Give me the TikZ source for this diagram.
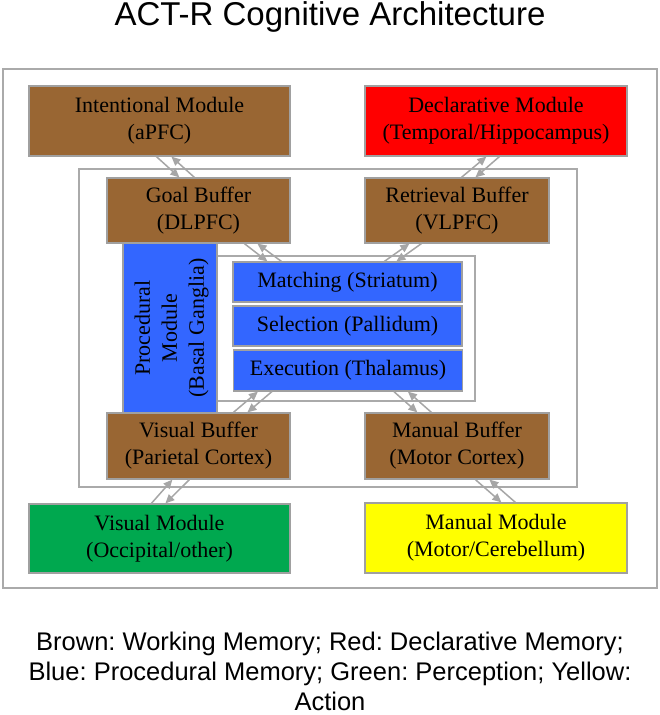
\documentclass[tikz,border=0pt]{standalone}
\usepackage{fontspec}
\setmainfont{Liberation Serif}
\newfontfamily\sansf{Liberation Sans}
\usetikzlibrary{arrows.meta}
\frenchspacing
\definecolor{brownc}{HTML}{996633}
\definecolor{redc}{HTML}{FF0000}
\definecolor{bluec}{HTML}{3366FF}
\definecolor{greenc}{HTML}{00A84F}
\definecolor{yellowc}{HTML}{FFFF00}
\definecolor{edgec}{HTML}{A0A0A0}
\definecolor{framec}{HTML}{AAAAAA}
\definecolor{arrc}{HTML}{A6A6A6}
\tikzset{
  box/.style={draw=edgec, line width=1.2pt, inner sep=0pt, align=center,
    font=\fontsize{22}{27}\selectfont, text=black},
  frame/.style={draw=framec, line width=1.5pt, fill=white},
  arr/.style={draw=arrc, line width=1.5pt, -{Triangle[length=9pt,width=8pt]}},
}
\begin{document}
\begin{tikzpicture}[x=1pt,y=-1pt]
\useasboundingbox (0,0) rectangle (660,715);
\node[font=\sansf\fontsize{33}{40}\selectfont] (title) at (330,17) {ACT-R Cognitive Architecture};
% frames
\draw[frame] (3,69) rectangle (657,588);
\draw[frame] (79,169) rectangle (577,487);
\draw[frame] (217,256) rectangle (475,401);
% modules
\node[box, fill=brownc, minimum width=261pt, minimum height=70pt] (intent) at (159.5,121) {Intentional Module\\(aPFC)};
\node[box, fill=redc, minimum width=262pt, minimum height=70pt] (decl) at (496,121) {Declarative Module\\(Temporal/Hippocampus)};
\node[box, fill=brownc, minimum width=183pt, minimum height=65pt] (goal) at (198.5,210.5) {Goal Buffer\\(DLPFC)};
\node[box, fill=brownc, minimum width=184pt, minimum height=65pt] (retr) at (457,210.5) {Retrieval Buffer\\(VLPFC)};
\node[box, fill=bluec, minimum width=94pt, minimum height=170pt] (proc) at (170,328) {};
\node[align=center, rotate=90, font=\fontsize{22}{27}\selectfont] (proctext) at ([xshift=1.5pt]proc.center) {Procedural\\Module\\(Basal Ganglia)};
\node[box, fill=bluec, minimum width=229pt, minimum height=40pt] (match) at (347.5,282) {Matching (Striatum)};
\node[box, fill=bluec, minimum width=229pt, minimum height=40pt] (sel) at (347.5,326) {Selection (Pallidum)};
\node[box, fill=bluec, minimum width=229pt, minimum height=41pt] (exec) at (348,370.5) {Execution (Thalamus)};
\node[box, fill=brownc, minimum width=183pt, minimum height=66pt] (vbuf) at (198.5,446) {Visual Buffer\\(Parietal Cortex)};
\node[box, fill=brownc, minimum width=184pt, minimum height=66pt] (mbuf) at (457,446) {Manual Buffer\\(Motor Cortex)};
\node[box, fill=greenc, minimum width=261pt, minimum height=69pt] (vmod) at (159.5,538.5) {Visual Module\\(Occipital/other)};
\node[box, fill=yellowc, minimum width=262pt, minimum height=70pt] (mmod) at (496,538) {Manual Module\\(Motor/Cerebellum)};
% connectors
\draw[arr] ([xshift=128pt]intent.south west) -- ([xshift=73pt]goal.north west);
\draw[arr] ([xshift=88pt]goal.north west) -- ([xshift=143pt]intent.south west);
\draw[arr] ([xshift=97pt]retr.north west) -- ([xshift=122pt]decl.south west);
\draw[arr] ([xshift=135pt]decl.south west) -- ([xshift=111pt]retr.north west);
\draw[arr] ([xshift=138pt]goal.south west) -- ([xshift=35pt]match.north west);
\draw[arr] ([xshift=49pt]match.north west) -- ([xshift=151pt]goal.south west);
\draw[arr] ([xshift=152pt]match.north west) -- ([xshift=45pt]retr.south west);
\draw[arr] ([xshift=57pt]retr.south west) -- ([xshift=164pt]match.north west);
\draw[arr] ([xshift=127pt]vbuf.north west) -- ([xshift=25pt]exec.south west);
\draw[arr] ([xshift=39pt]exec.south west) -- ([xshift=141pt]vbuf.north west);
\draw[arr] ([xshift=161pt]exec.south west) -- ([xshift=53pt]mbuf.north west);
\draw[arr] ([xshift=67pt]mbuf.north west) -- ([xshift=175pt]exec.south west);
\draw[arr] ([xshift=123pt]vmod.north west) -- ([xshift=66pt]vbuf.south west);
\draw[arr] ([xshift=83pt]vbuf.south west) -- ([xshift=137pt]vmod.north west);
\draw[arr] ([xshift=111pt]mbuf.south west) -- ([xshift=137pt]mmod.north west);
\draw[arr] ([xshift=151pt]mmod.north west) -- ([xshift=125pt]mbuf.south west);
% caption
\node[align=center, font=\sansf\fontsize{25.5}{30}\selectfont] (caption) at (330,671) {Brown: Working Memory; Red: Declarative Memory;\\Blue: Procedural Memory; Green: Perception; Yellow:\\Action};
\end{tikzpicture}
\end{document}
